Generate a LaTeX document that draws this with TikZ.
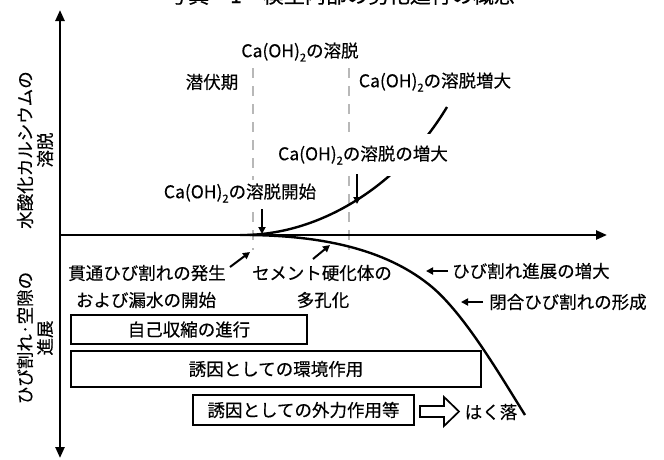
\documentclass[tikz,border=0pt]{standalone}
\usepackage{fontspec}
\setmainfont{Noto Sans CJK JP}[FakeBold=0.35]
\usetikzlibrary{arrows.meta}
\newcommand{\caoh}{Ca(OH)\raisebox{-0.45ex}{\fontsize{11}{11}\selectfont 2}}
\begin{document}
\begin{tikzpicture}[x=1pt,y=-1pt,
  lbl/.style={font=\fontsize{17.5}{20}\selectfont, inner sep=1pt},
  masklbl/.style={lbl, fill=white},
  axisline/.style={line width=2.4pt, -{Triangle[length=11pt,width=9pt]}},
  curveline/.style={line width=2.4pt},
  dashline/.style={line width=2.6pt, draw=black!28, dash pattern=on 10pt off 8pt},
  smallarrow/.style={line width=2pt, -{Triangle[length=7pt,width=7pt]}},
  factorbox/.style={draw, line width=1.1pt, font=\fontsize{17.5}{20}\selectfont, inner sep=0pt},
  hollowarrow/.style={line width=1.7pt, fill=white}]
\useasboundingbox (0,0) rectangle (664,459);
\clip (0,0) rectangle (664,459);

% cut-off title (only its lowest strip lies inside the picture)
\node[font=\fontsize{21}{24}\selectfont, anchor=south, inner sep=0pt] (title) at (341,5) {写真－1　模型内部の劣化進行の概念};

% dashed guide lines
\coordinate (d1t) at (253,68); \coordinate (d1b) at (253,250);
\coordinate (d2t) at (349,68); \coordinate (d2b) at (349,250);
\draw[dashline] (d1t) -- (d1b);
\draw[dashline] (d2t) -- (d2b);

% curves
\coordinate (uc0) at (240,235); \coordinate (uc1) at (447,107);
\draw[curveline] (uc0) .. controls (320,236) and (400,185) .. (uc1);
\coordinate (lc0) at (250,235); \coordinate (lcm) at (432,287); \coordinate (lc1) at (525,415);
\draw[curveline] (lc0) .. controls (330,236) and (390,252) .. (lcm)
                 .. controls (465,315) and (500,375) .. (lc1);

% upper labels
\node[lbl] (top) at (300,52) {\caoh の溶脱};
\node[lbl] (latent) at (212,82) {潜伏期};
\node[lbl] (incr) at (435,82) {\caoh の溶脱増大};
\node[masklbl, minimum height=42pt, inner xsep=2pt] (incr2) at (363,155) {\caoh の溶脱の増大};
\node[masklbl, inner ysep=4pt] (start) at (240,193) {\caoh の溶脱開始};

% axes
\coordinate (o) at (60,235);
\coordinate (ytop) at (60,10);
\coordinate (ybot) at (60,458);
\coordinate (xend) at (607,235);
\draw[axisline] (o) -- (ytop);
\draw[axisline] (o) -- (ybot);
\draw[axisline] (o) -- (xend);

% down arrows
\coordinate (a1s) at (262,209); \coordinate (a1e) at (262,234);
\draw[smallarrow] (a1s) -- (a1e);
\coordinate (a2s) at (357,174); \coordinate (a2e) at (357,204);
\draw[smallarrow] (a2s) -- (a2e);

% axis titles
\node[lbl, rotate=90, align=center] (yup) at (35,150) {水酸化カルシウムの\\溶脱};
\node[lbl, rotate=90, align=center] (ydown) at (35,338) {ひび割れ·空隙の\\進展};

% lower labels
\node[lbl] (crack1) at (147,273) {貫通ひび割れの発生};
\node[lbl] (crack2) at (146,300) {および漏水の開始};
\node[lbl] (cem1) at (322,273) {セメント硬化体の};
\node[lbl] (cem2) at (323,300) {多孔化};
\coordinate (a3s) at (230,267); \coordinate (a3e) at (250,252);
\draw[smallarrow] (a3s) -- (a3e);
\coordinate (a4s) at (313,259); \coordinate (a4e) at (330,245);
\draw[smallarrow] (a4s) -- (a4e);

\node[lbl, anchor=west] (grow) at (451,271) {ひび割れ進展の増大};
\coordinate (a5s) at (448,271); \coordinate (a5e) at (426,271);
\draw[smallarrow] (a5s) -- (a5e);
\node[lbl, anchor=west] (closed) at (488,302) {閉合ひび割れの形成};
\coordinate (a6s) at (483,302); \coordinate (a6e) at (461,302);
\draw[smallarrow] (a6s) -- (a6e);

% boxes
\node[factorbox, minimum width=236pt, minimum height=29pt] (box1) at (189,329.5) {自己収縮の進行};
\node[factorbox, minimum width=410pt, minimum height=36pt] (box2) at (276,369) {誘因としての環境作用};
\node[factorbox, minimum width=221pt, minimum height=30pt] (box3) at (303.5,410) {誘因としての外力作用等};

% hollow arrow and spalling
\draw[hollowarrow] (420,406) -- (444,406) -- (444,397) -- (459,411.5) -- (444,426) -- (444,417) -- (420,417) -- cycle;
\node[lbl] (spall) at (491,412) {はく落};
\end{tikzpicture}
\end{document}
